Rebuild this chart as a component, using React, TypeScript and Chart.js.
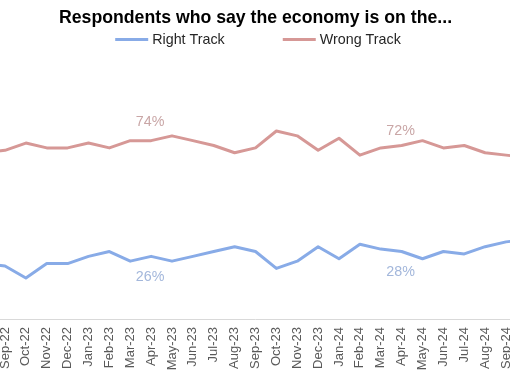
import { useEffect, useRef } from 'react';
import { Chart, registerables } from 'chart.js';
Chart.register(...registerables);

const months = ['Aug-22','Sep-22','Oct-22','Nov-22','Dec-22','Jan-23','Feb-23','Mar-23','Apr-23','May-23','Jun-23','Jul-23','Aug-23','Sep-23','Oct-23','Nov-23','Dec-23','Jan-24','Feb-24','Mar-24','Apr-24','May-24','Jun-24','Jul-24','Aug-24','Sep-24','Oct-24'];
const rightTrack = [23,22,17,23,23,26,28,24,26,24,26,28,30,28,21,24,30,25,31,29,28,25,28,27,30,32,33];
const wrongTrack = [69,70,73,71,71,73,71,74,74,76,74,72,69,71,78,76,70,75,68,71,72,74,71,72,69,68,67];
const labelledMonths = ['Apr-23', 'Apr-24'];
const titleText = 'Respondents who say the economy is on the...';
const seriesNames = ['Right Track', 'Wrong Track'];

const FONT = "'Liberation Sans', Arial, sans-serif";
const BLUE = '#88ABE7';
const RED = '#D69896';
const BLUE_LABEL = '#A3B7DB';
const RED_LABEL = '#C9A6A6';

export default function App() {
  const ref = useRef<HTMLCanvasElement | null>(null);
  useEffect(() => {
    const canvas = ref.current;
    if (!canvas) return;
    const legendPlugin = {
      id: 'customLegend',
      afterDraw(chart: any) {
        const ctx = chart.ctx;
        ctx.save();
        ctx.font = `14.3px ${FONT}`;
        const colors = [BLUE, RED];
        const w = seriesNames.map((n) => ctx.measureText(n).width);
        const box = 33, gap = 4, between = 58;
        const total = box + gap + w[0] + between + box + gap + w[1];
        let x = chart.width / 2 + 4 - total / 2;
        const y = 39.5;
        seriesNames.forEach((name, i) => {
          ctx.strokeStyle = colors[i];
          ctx.lineWidth = 3.2;
          ctx.beginPath();
          ctx.moveTo(x, y);
          ctx.lineTo(x + box, y);
          ctx.stroke();
          ctx.fillStyle = '#262626';
          ctx.textAlign = 'left';
          ctx.textBaseline = 'middle';
          ctx.fillText(name, x + box + gap, y + 0.5);
          x += box + gap + w[i] + between;
        });
        ctx.restore();
      },
    };
    const valueLabelPlugin = {
      id: 'valueLabels',
      afterDatasetsDraw(chart: any) {
        const ctx = chart.ctx;
        ctx.save();
        ctx.font = `14.3px ${FONT}`;
        ctx.textAlign = 'center';
        ctx.textBaseline = 'middle';
        const offsets = [[21, 21], [-19, -14]];
        const colors = [BLUE_LABEL, RED_LABEL];
        chart.data.datasets.forEach((ds: any, di: number) => {
          const meta = chart.getDatasetMeta(di);
          labelledMonths.forEach((m, li) => {
            const idx = months.indexOf(m);
            const pt = meta.data[idx];
            if (!pt) return;
            ctx.fillStyle = colors[di];
            ctx.fillText(`${ds.data[idx]}%`, pt.x - 1, pt.y + offsets[di][li]);
          });
        });
        ctx.restore();
      },
    };
    const chart = new Chart(canvas, {
      type: 'line',
      data: {
        labels: months,
        datasets: [
          { label: seriesNames[0], data: rightTrack, borderColor: BLUE, backgroundColor: BLUE, borderWidth: 3, pointRadius: 0, tension: 0, borderJoinStyle: 'round' },
          { label: seriesNames[1], data: wrongTrack, borderColor: RED, backgroundColor: RED, borderWidth: 3, pointRadius: 0, tension: 0, borderJoinStyle: 'round' },
        ],
      },
      options: {
        responsive: false,
        animation: false,
        layout: { padding: { left: 14.125, right: 11.125, top: 0, bottom: 0 } },
        plugins: {
          legend: { display: false },
          tooltip: { enabled: false },
          title: {
            display: true,
            text: titleText,
            color: '#000',
            font: { family: FONT, size: 17.7, weight: 'bold' },
            padding: { top: 7, bottom: 49.76 },
          },
        },
        scales: {
          x: {
            offset: false,
            grid: { display: false },
            border: { display: true, color: '#D9D9D9', width: 1 },
            ticks: {
              autoSkip: false,
              minRotation: 90,
              maxRotation: 90,
              padding: 0,
              color: '#595959',
              font: { family: FONT, size: 13 },
            },
            afterFit: (scale: any) => {
              scale.paddingLeft = 0;
              scale.paddingRight = 0;
              scale.height = 63;
            },
          },
          y: { display: false, min: 0, max: 100 },
        },
      },
      plugins: [legendPlugin, valueLabelPlugin],
    } as any);
    return () => chart.destroy();
  }, []);
  return (
    <div style={{ position: 'fixed', left: 0, top: 0, width: 510, height: 382, overflow: 'hidden', background: '#fff' }}>
      <canvas ref={ref} width={568} height={382} style={{ position: 'absolute', left: -30, top: 0 }} />
    </div>
  );
}
